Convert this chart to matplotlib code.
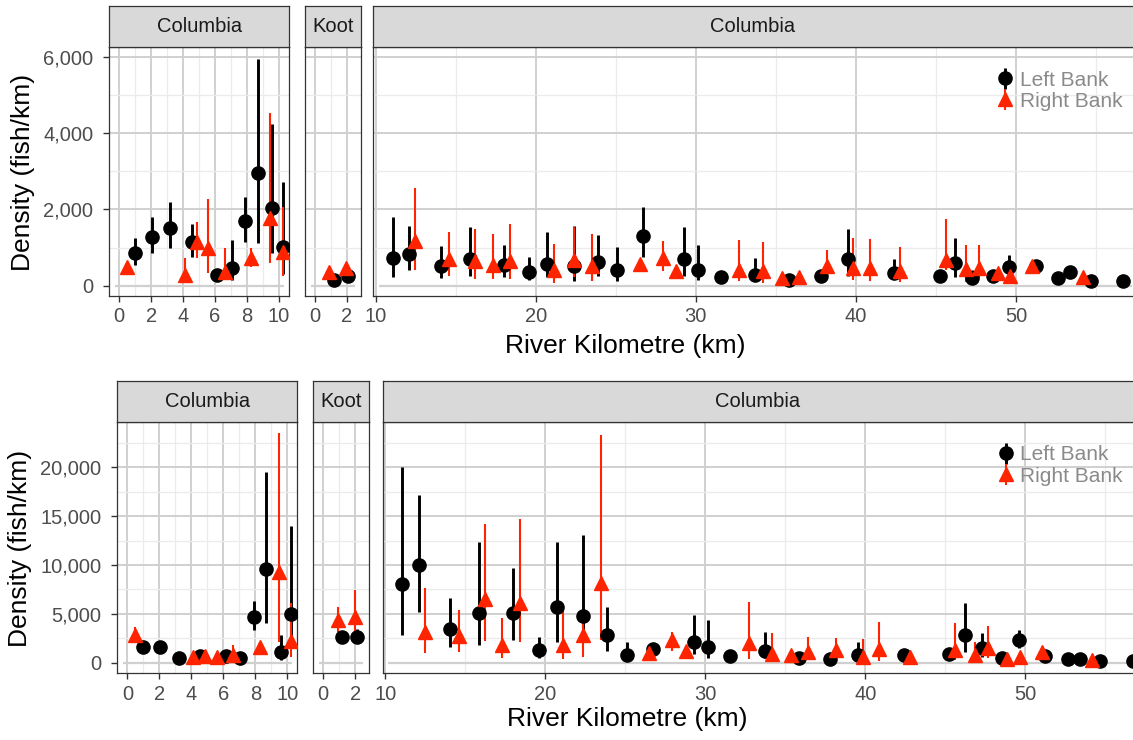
"""Fish density by river kilometre, left vs right bank, two surveys."""

import matplotlib.pyplot as plt
import numpy as np
from matplotlib.ticker import FuncFormatter, MultipleLocator

plt.rcParams["font.family"] = ["Liberation Sans", "DejaVu Sans"]

FIG_W, FIG_H = 1133, 740
PX_PER_KM = 16.0

FACETS = ["Columbia", "Koot", "Columbia"]
BANKS = ["Left Bank", "Right Bank"]

# site positions (river km)
UP_LEFT_KM = [0.99, 2.05, 3.2, 4.55, 6.15, 7.06, 7.9, 8.66, 9.57, 10.24]
UP_RIGHT_KM = [0.47, 4.12, 4.87, 5.58, 6.6, 8.26, 9.46, 10.24]
KOOT_LEFT_KM = [1.18, 2.09]
KOOT_RIGHT_KM = [0.9, 1.97]
LOW_LEFT_KM = [11.06, 12.1, 14.05, 15.88, 17.98, 19.57, 20.7, 22.38, 23.88, 25.08,
               26.71, 29.26, 30.16, 31.56, 33.7, 35.85, 37.82, 39.51, 42.41, 45.23,
               46.2, 47.26, 48.57, 49.6, 51.24, 52.66, 53.41, 54.67, 56.72]
LOW_RIGHT_KM = [12.45, 14.6, 16.2, 17.3, 18.4, 21.12, 22.38, 23.48, 26.48, 27.93,
                28.77, 32.72, 34.19, 35.36, 36.44, 38.19, 39.83, 40.86, 42.76, 45.62,
                46.87, 47.68, 48.87, 49.65, 51.03, 54.17]

# density (estimate, lower, upper) - top survey
TOP_UP_LEFT = [(849, 542, 1258), (1284, 849, 1808), (1502, 980, 2185), (1153, 761, 1617),
               (290, 200, 380), (455, 150, 1198), (1700, 1153, 2336), (2945, 1110, 5931),
               (2028, 849, 4238), (1022, 300, 2706)]
TOP_UP_RIGHT = [(497, 400, 600), (280, 150, 718), (1153, 718, 1678), (980, 325, 2263),
                (367, 150, 980), (718, 497, 980), (1766, 587, 4516), (891, 262, 2074)]
TOP_KOOT_LEFT = [(150, 80, 220), (254, 180, 330)]
TOP_KOOT_RIGHT = [(367, 280, 450), (455, 350, 560)]
TOP_LOW_LEFT = [(725, 228, 1790), (830, 419, 1572), (506, 200, 1048), (700, 244, 1528),
                (532, 228, 1066), (358, 157, 741), (568, 228, 1397), (506, 131, 1572),
                (611, 244, 1318), (401, 113, 1003), (1292, 752, 2052), (699, 262, 1528),
                (419, 157, 1074), (228, 130, 330), (288, 157, 725), (157, 100, 250),
                (262, 180, 350), (699, 244, 1485), (332, 244, 700), (262, 180, 350),
                (594, 228, 1249), (202, 113, 419), (262, 180, 350), (489, 228, 794),
                (506, 400, 620), (202, 150, 260), (349, 280, 420), (113, 60, 170),
                (113, 60, 170)]
TOP_LOW_RIGHT = [(1180, 419, 2560), (700, 244, 1397), (637, 175, 1485), (550, 175, 1354),
                 (637, 175, 1616), (401, 71, 1092), (680, 230, 1550), (506, 131, 1354),
                 (568, 450, 700), (725, 375, 1161), (375, 300, 450), (419, 113, 1205),
                 (393, 71, 1135), (202, 130, 280), (228, 130, 330), (506, 333, 943),
                 (463, 157, 1249), (463, 113, 1223), (375, 87, 1014), (663, 419, 1747),
                 (437, 87, 1074), (463, 202, 1074), (332, 260, 400), (262, 200, 330),
                 (506, 420, 600), (228, 100, 300)]

# density (estimate, lower, upper) - bottom survey
BOT_UP_LEFT = [(1638, 1300, 2000), (1638, 1300, 2000), (450, 200, 700), (686, 400, 1000),
               (686, 400, 1000), (450, 200, 700), (4708, 3347, 6315), (9590, 4033, 19550),
               (1126, 300, 2800), (4954, 1500, 14023)]
BOT_UP_RIGHT = [(2835, 2150, 3685), (553, 300, 800), (686, 300, 1300), (614, 300, 1000),
                (788, 200, 1800), (1638, 1300, 2000), (9314, 2150, 23480), (2252, 553, 6080)]
BOT_KOOT_LEFT = [(2661, 2100, 3200), (2661, 2000, 3500)]
BOT_KOOT_RIGHT = [(4370, 3173, 5670), (4708, 3009, 7441)]
BOT_LOW_LEFT = [(8055, 2835, 20060), (10000, 5220, 17165), (3449, 1576, 6590),
                (5118, 1812, 12385), (5118, 2323, 9662), (1300, 500, 2661),
                (5670, 2150, 12385), (4780, 2497, 13071), (2835, 1228, 5732),
                (788, 300, 2150), (1372, 1000, 1800), (2150, 890, 4882), (1576, 450, 4370),
                (686, 450, 950), (1228, 500, 3173), (450, 250, 700), (379, 200, 600),
                (788, 200, 2150), (788, 500, 1100), (890, 600, 1200), (2835, 1126, 6080),
                (1474, 600, 3009), (512, 300, 750), (2323, 1500, 3347), (717, 450, 1000),
                (348, 200, 500), (379, 200, 550), (174, 80, 300), (205, 100, 320)]
BOT_LOW_RIGHT = [(3173, 1024, 7615), (2733, 1126, 5394), (6489, 2252, 14196),
                 (1812, 450, 4545), (6141, 2088, 14677), (1812, 348, 5568),
                 (2835, 614, 4700), (8188, 2323, 23305), (962, 700, 1250),
                 (2323, 1228, 3173), (1198, 900, 1500), (2047, 379, 6243), (860, 276, 3070),
                 (788, 500, 1100), (1126, 276, 2661), (1300, 553, 2497), (614, 200, 2425),
                 (1372, 205, 4197), (614, 400, 850), (1300, 276, 4094), (788, 276, 2150),
                 (1474, 500, 3756), (400, 250, 550), (614, 400, 850), (1064, 800, 1350),
                 (276, 150, 400)]

BLACK = "#000000"
RED = "#FF2400"
GRID_MAJOR = "#D0D0D0"
GRID_MINOR = "#EBEBEB"
FRAME = "#333333"

XLIMS = [(-0.63, 10.63), (-0.62, 2.86), (9.82, 57.6)]
XMAJOR = [2, 2, 10]
XMINOR = [1, 1, 5]

ROWS = [
    dict(panel_y=(46.7, 295.7), strip_y=(6, 46.7), lefts=(109, 305, 373),
         ylim=(-262, 6262), ymajor=2000, yminor=1000,
         data=[(UP_LEFT_KM, TOP_UP_LEFT, UP_RIGHT_KM, TOP_UP_RIGHT),
               (KOOT_LEFT_KM, TOP_KOOT_LEFT, KOOT_RIGHT_KM, TOP_KOOT_RIGHT),
               (LOW_LEFT_KM, TOP_LOW_LEFT, LOW_RIGHT_KM, TOP_LOW_RIGHT)],
         ylabel_xy=(23, 172), xlabel_xy=(625, 346), legend_xy=(994.6, 70.5)),
    dict(panel_y=(421.7, 673.3), strip_y=(380.7, 421.7), lefts=(117.3, 313.3, 382.5),
         ylim=(-1085, 24667), ymajor=5000, yminor=2500,
         data=[(UP_LEFT_KM, BOT_UP_LEFT, UP_RIGHT_KM, BOT_UP_RIGHT),
               (KOOT_LEFT_KM, BOT_KOOT_LEFT, KOOT_RIGHT_KM, BOT_KOOT_RIGHT),
               (LOW_LEFT_KM, BOT_LOW_LEFT, LOW_RIGHT_KM, BOT_LOW_RIGHT)],
         ylabel_xy=(20, 548), xlabel_xy=(627, 719), legend_xy=(995.3, 445.5)),
]


def rect(x0, x1, y0, y1):
    return [x0 / FIG_W, 1 - y1 / FIG_H, (x1 - x0) / FIG_W, (y1 - y0) / FIG_H]


def draw_grid(ax, xlim, ylim, xmaj, xmin_, ymaj, ymin_):
    for x in np.arange(np.ceil(xlim[0] / xmin_) * xmin_, xlim[1], xmin_):
        major = np.isclose(x % xmaj, 0) or np.isclose(x % xmaj, xmaj)
        ax.axvline(x, color=GRID_MAJOR if major else GRID_MINOR,
                   lw=1.4 if major else 0.9, zorder=0)
    for y in np.arange(ymin_, ylim[1], ymin_):
        major = np.isclose(y % ymaj, 0)
        ax.axhline(y, color=GRID_MAJOR if major else GRID_MINOR,
                   lw=1.4 if major else 0.9, zorder=0)
    inset = 0.35
    ax.hlines(0, xlim[0] + inset, xlim[1] - inset, color=GRID_MAJOR, lw=1.6, zorder=0)


def draw_bank(ax, km, vals, color, marker, ms, lw, label):
    est, lo, hi = np.array(vals, dtype=float).T
    ax.errorbar(km, est, yerr=[est - lo, hi - est], fmt=marker, color=color,
                ms=ms, elinewidth=lw, capsize=0, label=label, zorder=3)


def build_row(fig, row):
    py0, py1 = row["panel_y"]
    sy0, sy1 = row["strip_y"]
    axes = []
    for i, left in enumerate(row["lefts"]):
        xlim = XLIMS[i]
        right = left + (xlim[1] - xlim[0]) * PX_PER_KM
        ax = fig.add_axes(rect(left, right, py0, py1))
        ax.set_xlim(*xlim)
        ax.set_ylim(*row["ylim"])
        draw_grid(ax, xlim, row["ylim"], XMAJOR[i], XMINOR[i],
                  row["ymajor"], row["yminor"])

        left_km, left_vals, right_km, right_vals = row["data"][i]
        draw_bank(ax, left_km, left_vals, BLACK, "o", 9.5, 2.1, BANKS[0])
        draw_bank(ax, right_km, right_vals, RED, "^", 10.5, 1.5, BANKS[1])

        ax.xaxis.set_major_locator(MultipleLocator(XMAJOR[i]))
        ax.yaxis.set_major_locator(MultipleLocator(row["ymajor"]))
        ax.yaxis.set_major_formatter(FuncFormatter(lambda v, _: f"{v:,.0f}"))
        ax.tick_params(axis="both", colors=FRAME, labelcolor="#4D4D4D",
                       labelsize=14.5, length=4.3, width=1.0)
        ax.tick_params(axis="x", pad=4)
        ax.tick_params(axis="y", pad=7)
        if i > 0:
            ax.tick_params(axis="y", left=False, labelleft=False)
        for sp in ax.spines.values():
            sp.set_color(FRAME)
            sp.set_linewidth(0.9)

        strip = fig.add_axes(rect(left, right, sy0, sy1))
        strip.set_facecolor("#D9D9D9")
        strip.set_xticks([])
        strip.set_yticks([])
        for sp in strip.spines.values():
            sp.set_color(FRAME)
            sp.set_linewidth(0.9)
        vis_right = min(right, FIG_W)
        cx = ((left + vis_right) / 2 - left) / (right - left)
        strip.text(cx, 0.5, FACETS[i], transform=strip.transAxes, ha="center",
                   va="center", fontsize=14.5, color="#1A1A1A")
        axes.append(ax)

    lx, ly = row["legend_xy"]
    axes[2].legend(loc="upper left", bbox_to_anchor=(lx / FIG_W, 1 - ly / FIG_H),
                   bbox_transform=fig.transFigure, frameon=False, fontsize=15,
                   labelcolor="#8A8A8A", handlelength=1.0, handletextpad=0.2,
                   labelspacing=0.1, borderpad=0, borderaxespad=0)

    yx, yy = row["ylabel_xy"]
    fig.text(yx / FIG_W, 1 - yy / FIG_H, "Density (fish/km)", rotation=90,
             ha="center", va="center", fontsize=19)
    xx, xy = row["xlabel_xy"]
    fig.text(xx / FIG_W, 1 - xy / FIG_H, "River Kilometre (km)",
             ha="center", va="center", fontsize=19)


def main() -> None:
    fig = plt.figure(figsize=(FIG_W / 100, FIG_H / 100), dpi=100)
    for row in ROWS:
        build_row(fig, row)
    fig.savefig("out.png", dpi=100)
    plt.close(fig)


if __name__ == "__main__":
    main()
